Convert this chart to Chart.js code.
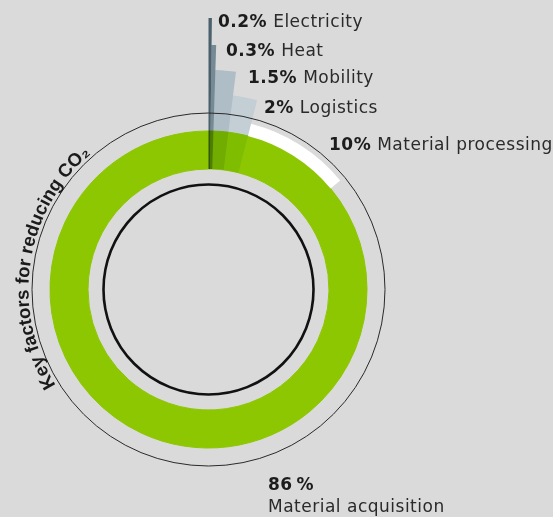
<!DOCTYPE html>
<html>
<head>
<meta charset="utf-8">
<script src="https://cdn.jsdelivr.net/npm/chart.js@4.4.1/dist/chart.umd.min.js"></script>
<style>
  html, body { margin: 0; padding: 0; background: #dadada; }
  canvas { display: block; }
</style>
</head>
<body>
<canvas id="co2-chart" width="553" height="517"></canvas>
<script>
// Data
const factors = ['Electricity', 'Heat', 'Mobility', 'Logistics', 'Material processing', 'Material acquisition'];
const shares = [0.2, 0.3, 1.5, 2, 10, 86];
const title = 'Key factors for reducing CO\u2082';

// Looks
const paper = '#dadada';
const ringGreen = '#8dc701';
// bar tints are multiplied onto whatever is under them
const barColors = ['#56717f', '#8aa1ae', '#ccdde8', '#e6f2f9', 'rgba(0,0,0,0)', 'rgba(0,0,0,0)'];
const bandColors = ['rgba(0,0,0,0)', 'rgba(0,0,0,0)', 'rgba(0,0,0,0)', 'rgba(0,0,0,0)', '#ffffff', 'rgba(0,0,0,0)'];
// radial reach of each bar (px from centre)
const barInner = 120.5;
const barOuter = [271.5, 244.5, 219.5, 195.5, 0, 0];
const bandInner = 158.5;
const bandOuter = 171;
const ringInner = 120.5;
const ringOuter = 158.5;

// label anchors: left x, baseline y
const labelSpots = [[218, 27], [226, 56], [248, 83], [264, 113], [329, 150], [268, 490]];
const labelStacked = [false, false, false, false, false, true];

const font = '"DejaVu Sans", "Liberation Sans", sans-serif';
const titleFont = '"Liberation Sans", Arial, sans-serif';

const ctxEl = document.querySelector('#co2-chart');

const radiusPlugin = {
  id: 'radiusPlugin',
  beforeDraw: (chart) => {
    const ctx = chart.ctx;
    ctx.save();
    ctx.fillStyle = paper;
    ctx.fillRect(0, 0, chart.width, chart.height);
    ctx.restore();
  },
  afterDatasetsUpdate: (chart) => {
    chart.getDatasetMeta(0).data.forEach((arc, i) => {
      arc.innerRadius = barOuter[i] ? barInner : 0;
      arc.outerRadius = barOuter[i];
    });
    chart.getDatasetMeta(1).data.forEach((arc) => {
      arc.innerRadius = bandInner;
      arc.outerRadius = bandOuter;
    });
    chart.getDatasetMeta(2).data.forEach((arc) => {
      arc.innerRadius = ringInner;
      arc.outerRadius = ringOuter;
    });
  },
  beforeDatasetDraw: (chart, args) => {
    if (args.index === 0) {
      chart.ctx.save();
      chart.ctx.globalCompositeOperation = 'multiply';
    }
  },
  afterDatasetDraw: (chart, args) => {
    if (args.index === 0) chart.ctx.restore();
  }
};

const drawArcText = (ctx, text, cx, cy, r, midAngle) => {
  const chars = [...text];
  const widths = chars.map((c) => ctx.measureText(c).width);
  const total = widths.reduce((a, b) => a + b, 0);
  let angle = midAngle - total / r / 2;
  chars.forEach((c, i) => {
    const a = angle + widths[i] / r / 2;
    ctx.save();
    ctx.translate(cx + r * Math.cos(a), cy + r * Math.sin(a));
    ctx.rotate(a + Math.PI / 2);
    ctx.fillText(c, 0, 0);
    ctx.restore();
    angle += widths[i] / r;
  });
};

const decorPlugin = {
  id: 'decorPlugin',
  afterDatasetsDraw: (chart) => {
    const ctx = chart.ctx;
    const arc = chart.getDatasetMeta(2).data[0];
    const cx = arc.x;
    const cy = arc.y;

    ctx.save();
    // outer thin circle
    ctx.strokeStyle = '#2a2a2a';
    ctx.lineWidth = 1;
    ctx.beginPath();
    ctx.arc(cx, cy, 176.5, 0, Math.PI * 2);
    ctx.stroke();

    // inner thick circle
    ctx.strokeStyle = '#111';
    ctx.lineWidth = 2.6;
    ctx.beginPath();
    ctx.arc(cx, cy, 105, 0, Math.PI * 2);
    ctx.stroke();

    // curved title
    ctx.fillStyle = '#1a1a1a';
    ctx.font = 'bold 18.5px ' + titleFont;
    ctx.textAlign = 'center';
    ctx.textBaseline = 'alphabetic';
    drawArcText(ctx, title, cx, cy, 180, 188.5 * Math.PI / 180);

    // labels
    ctx.textAlign = 'left';
    ctx.letterSpacing = '0.5px';
    factors.forEach((name, i) => {
      const [x, y] = labelSpots[i];
      const pct = labelStacked[i] ? shares[i] + '\u2009%' : shares[i] + '%';
      ctx.font = 'bold 17px ' + font;
      ctx.fillStyle = '#1c1c1c';
      ctx.fillText(pct, x, y);
      const wb = ctx.measureText(pct).width;
      ctx.font = '17px ' + font;
      ctx.fillStyle = '#2a2a2a';
      if (labelStacked[i]) {
        ctx.fillText(name, x, y + 22);
      } else {
        ctx.fillText(name, x + wb + 6, y);
      }
    });
    ctx.restore();
  }
};

new Chart(ctxEl, {
  type: 'doughnut',
  data: {
    labels: factors,
    datasets: [{
      label: 'Bars',
      data: shares,
      backgroundColor: barColors,
      borderWidth: 0,
      order: 0
    }, {
      label: 'Band',
      data: shares,
      backgroundColor: bandColors,
      borderWidth: 0,
      order: 1
    }, {
      label: 'Ring',
      data: shares,
      backgroundColor: ringGreen,
      borderColor: ringGreen,
      borderWidth: 1,
      order: 2
    }]
  },
  options: {
    responsive: false,
    animation: false,
    events: [],
    layout: { padding: { left: 0, right: 136, top: 62, bottom: 0 } },
    plugins: {
      legend: { display: false },
      tooltip: { enabled: false }
    }
  },
  plugins: [radiusPlugin, decorPlugin]
});
</script>
</body>
</html>
